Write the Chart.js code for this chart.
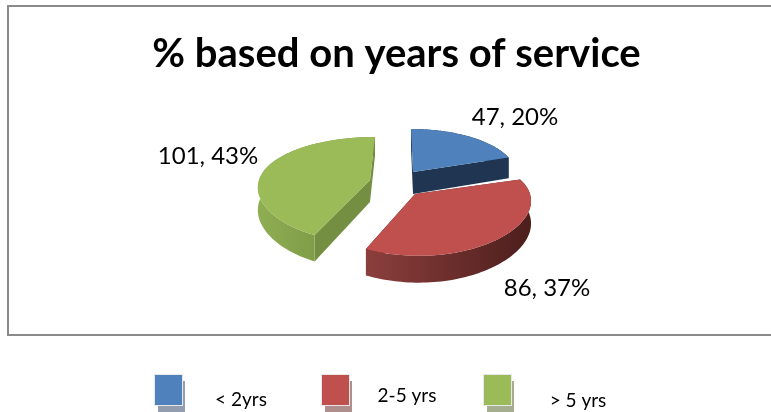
<!DOCTYPE html>
<html>
<head>
<meta charset="utf-8">
<title>% based on years of service</title>
<script src="https://cdn.jsdelivr.net/npm/chart.js@4/dist/chart.umd.min.js"></script>
<style>
  html, body { margin: 0; padding: 0; background: #fff; overflow: hidden; }
  canvas { display: block; }
</style>
</head>
<body>
<canvas id="pie" width="771" height="412"></canvas>
<script>
const categories = ["< 2yrs", "2-5 yrs", "> 5 yrs"];
const counts = [47, 86, 101];
const chartTitle = "% based on years of service";

const topColors = ["#4f81bd", "#c0504d", "#9bbb59"];
const cutColors = ["#1f3552", "#5a2523", "#748f42"];
const wallStops = [
  ["#1f3552", "#1f3552"],
  ["#8c3f3d", "#4c1e1c"],
  ["#8fae52", "#6f8a3e"],
];
const shadowColors = ["#929daf", "#ae8f8e", "#a6ae90"];

// apex of each slice on the top face, its radius and a small lean for the perspective
const apexX = [413, 415, 370];
const apexY = [172, 194, 180];
const radii = [104, 115, 111];
const lean = [2, 4, -5];
const ellipseY = 50.7;
const depth = 22;
const perspY = 0.18;
const perspX = 0.1;

const labelX = [515, 547, 208];
const labelY = [117, 288, 156];
const swatchX = [155, 322, 484];
const swatchY = [375, 375, 375];
const legendTextX = [241, 407, 578];
const legendTextY = [400, 396, 401];

function point(i, t, r) {
  const u = Math.sin(t) * r;
  const v = -Math.cos(t) * r;
  const sx = 1 / (1 - perspX * v);
  const sy = 1 / (1 - perspY * v);
  return {
    x: apexX[i] + radii[i] * u * sx + lean[i] * v,
    y: apexY[i] + ellipseY * v * sy,
    d: depth * sy,
  };
}

function arcPoints(i, a, b) {
  const pts = [];
  for (let k = 0; k <= 80; k++) pts.push(point(i, a + ((b - a) * k) / 80, 1));
  return pts;
}

function fillPath(ctx, pts, fill) {
  ctx.beginPath();
  pts.forEach((p, k) => (k ? ctx.lineTo(p.x, p.y) : ctx.moveTo(p.x, p.y)));
  ctx.closePath();
  ctx.fillStyle = fill;
  ctx.fill();
}

const down = (p) => ({ x: p.x, y: p.y + p.d });

const slices3d = {
  id: "slices3d",
  beforeDraw(chart) {
    // outer frame, runs off the right edge
    const ctx = chart.ctx;
    ctx.save();
    ctx.strokeStyle = "#8a8a8a";
    ctx.lineWidth = 2;
    ctx.strokeRect(8, 6, 800, 329);
    ctx.restore();
  },
  beforeDatasetsDraw(chart) {
    const ctx = chart.ctx;
    const arcs = chart.getDatasetMeta(0).data;
    arcs.forEach((arc, i) => {
      const a = arc.startAngle + Math.PI / 2;
      const b = arc.endAngle + Math.PI / 2;
      const rim = arcPoints(i, a, b);
      const apex = point(i, 0, 0);
      const first = rim[0];
      const last = rim[rim.length - 1];

      fillPath(ctx, [apex, first, down(first), down(apex)], cutColors[i]);
      fillPath(ctx, [apex, last, down(last), down(apex)], cutColors[i]);

      const xs = rim.map((p) => p.x);
      const grad = ctx.createLinearGradient(Math.min(...xs), 0, Math.max(...xs), 0);
      grad.addColorStop(0, wallStops[i][0]);
      grad.addColorStop(1, wallStops[i][1]);
      fillPath(ctx, rim.concat(rim.map(down).reverse()), grad);

      fillPath(ctx, [apex].concat(rim), topColors[i]);
    });
    return false;
  },
  afterDraw(chart) {
    const ctx = chart.ctx;
    const values = chart.data.datasets[0].data;
    const total = values.reduce((s, v) => s + v, 0);
    ctx.save();
    ctx.fillStyle = "#000";
    ctx.textAlign = "center";
    ctx.textBaseline = "middle";
    ctx.font = "24px Lato";
    values.forEach((v, i) => {
      ctx.fillText(`${v}, ${Math.round((v / total) * 100)}%`, labelX[i], labelY[i]);
    });
    ctx.font = "19px Lato";
    chart.data.labels.forEach((name, i) => {
      const x = swatchX[i];
      const y = swatchY[i];
      ctx.fillStyle = shadowColors[i];
      ctx.fillRect(x + 3, y + 6, 27, 31);
      ctx.fillStyle = "#e8e8e8";
      ctx.fillRect(x - 1, y - 1, 29, 32);
      ctx.fillStyle = topColors[i];
      ctx.fillRect(x, y, 27, 30);
      ctx.fillStyle = "#000";
      ctx.fillText(name, legendTextX[i], legendTextY[i]);
    });
    ctx.restore();
  },
};

new Chart(document.getElementById("pie"), {
  type: "pie",
  data: {
    labels: categories,
    datasets: [{ data: counts, backgroundColor: topColors, borderWidth: 0 }],
  },
  options: {
    responsive: false,
    animation: false,
    layout: { padding: { left: 22, top: 30 } },
    plugins: {
      legend: { display: false },
      tooltip: { enabled: false },
      title: {
        display: true,
        text: chartTitle,
        color: "#000",
        font: { family: "Lato", size: 40, weight: "bold" },
        padding: 0,
      },
    },
  },
  plugins: [slices3d],
});
</script>
</body>
</html>
